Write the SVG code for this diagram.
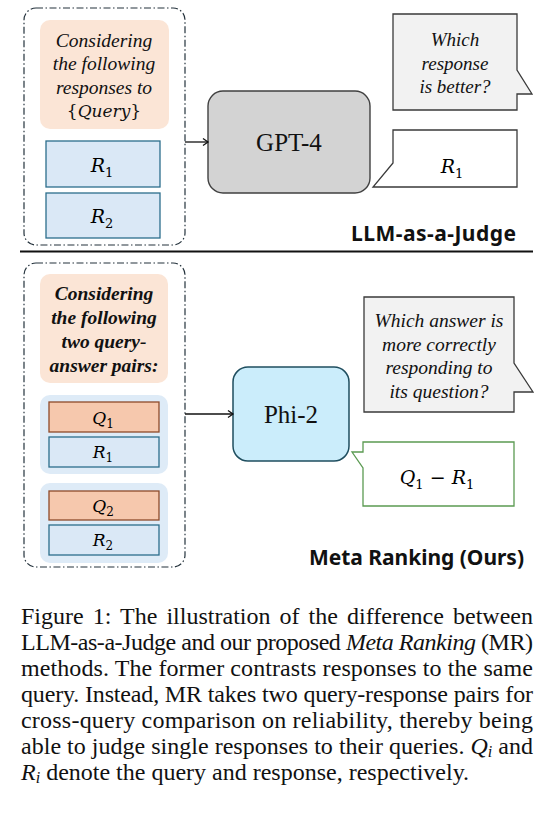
<svg xmlns="http://www.w3.org/2000/svg" width="556" height="813" viewBox="0 0 556 813">
<style>
.t{font-family:"Liberation Serif","Times New Roman",serif;fill:#111}
.it{font-style:italic}
.bi{font-style:italic;font-weight:bold}
.m{font-family:"DejaVu Serif",serif;font-style:italic}
.s{font-family:"DejaVu Serif",serif;font-style:normal}
.lbl{font-family:"Noto Sans","Open Sans",sans-serif;font-weight:bold;fill:#111}
.outer{fill:none;stroke:#24323c;stroke-width:1.2;stroke-dasharray:7 2.5 1.5 2.5}
.peach{fill:#fbe5d6}
.rbox{fill:#dae8f6;stroke:#2b6e8c;stroke-width:1.3}
.qbox{fill:#f6c8ad;stroke:#8e4a2a;stroke-width:1.3}
.grp{fill:#deebf7}
.bub{fill:#f2f2f2;stroke:#3a3a3a;stroke-width:1.3}
.bubw{fill:#fff;stroke:#3a3a3a;stroke-width:1.3}
.bubg{fill:#fff;stroke:#5b9a52;stroke-width:1.3}
.conn{stroke:#111;stroke-width:1.3;fill:none;marker-end:url(#ah)}
.cap{font-family:"Liberation Serif","Times New Roman",serif;font-size:24px;fill:#111}
</style>
<defs>
<marker id="ah" markerWidth="10" markerHeight="10" refX="8" refY="5" orient="auto" markerUnits="userSpaceOnUse"><path d="M3,1.5 L8,5 L3,8.5" fill="none" stroke="#111" stroke-width="1.3"/></marker>
</defs>

<g id="top-input">
<rect class="outer" x="24" y="8" width="161" height="237" rx="12"/>
<rect class="peach" x="40" y="20" width="129" height="109" rx="10"/>
<text class="t it" font-size="19.5" text-anchor="middle"><tspan x="104" y="47">Considering</tspan><tspan x="104" y="70">the following</tspan><tspan x="104" y="93.5">responses to</tspan></text>
<text class="t" font-size="18" text-anchor="middle" x="104" y="117"><tspan class="s" font-size="17">{</tspan><tspan class="m" font-size="17">Query</tspan><tspan class="s" font-size="17">}</tspan></text>
<rect class="rbox" x="46" y="141" width="114" height="46"/>
<text class="m" font-size="19" text-anchor="middle" x="102" y="172">R<tspan class="s" font-size="13" dy="5">1</tspan></text>
<rect class="rbox" x="46" y="193" width="114" height="45"/>
<text class="m" font-size="19" text-anchor="middle" x="102" y="223">R<tspan class="s" font-size="13" dy="5">2</tspan></text>
</g>

<g id="gpt4">
<rect x="208" y="91" width="162" height="102" rx="15" fill="#d3d3d3" stroke="#404040" stroke-width="1.4"/>
<text class="t" font-size="25" text-anchor="middle" x="289" y="151">GPT-4</text>
</g>

<g id="top-question">
<path class="bub" d="M393,14 H517 V70 L532,94 H517 V110 H393 Z"/>
<text class="t it" font-size="19" text-anchor="middle"><tspan x="455" y="46">Which</tspan><tspan x="455" y="69.5">response</tspan><tspan x="455" y="93">is better?</tspan></text>
</g>

<g id="top-answer">
<path class="bubw" d="M393,130 H517 V187 H373 L393,163 Z"/>
<text class="m" font-size="19" text-anchor="middle" x="452" y="173">R<tspan class="s" font-size="13" dy="5">1</tspan></text>
</g>

<text class="lbl" font-size="21" text-anchor="end" x="516" y="241" textLength="165" lengthAdjust="spacing">LLM-as-a-Judge</text>

<line x1="20" y1="251.5" x2="533" y2="251.5" stroke="#111" stroke-width="2"/>

<g id="bottom-input">
<rect class="outer" x="24" y="263" width="161" height="304" rx="12"/>
<rect class="peach" x="40" y="274" width="128" height="109" rx="10"/>
<text class="t bi" font-size="19.5" text-anchor="middle"><tspan x="104" y="300">Considering</tspan><tspan x="104" y="324">the following</tspan><tspan x="104" y="348">two query-</tspan><tspan x="104" y="372">answer pairs:</tspan></text>
<rect class="grp" x="40" y="395" width="128" height="79" rx="10"/>
<rect class="qbox" x="49" y="402" width="110" height="30"/>
<text class="m" font-size="17" text-anchor="middle" x="103" y="424">Q<tspan class="s" font-size="12" dy="4">1</tspan></text>
<rect class="rbox" x="49" y="437" width="110" height="30"/>
<text class="m" font-size="17" text-anchor="middle" x="103" y="458">R<tspan class="s" font-size="12" dy="4">1</tspan></text>
<rect class="grp" x="40" y="483" width="128" height="80" rx="10"/>
<rect class="qbox" x="49" y="491" width="110" height="29"/>
<text class="m" font-size="17" text-anchor="middle" x="103" y="512">Q<tspan class="s" font-size="12" dy="4">2</tspan></text>
<rect class="rbox" x="49" y="525" width="110" height="30"/>
<text class="m" font-size="17" text-anchor="middle" x="103" y="546">R<tspan class="s" font-size="12" dy="4">2</tspan></text>
</g>

<g id="phi2">
<rect x="233" y="367" width="116" height="94" rx="15" fill="#cbedfb" stroke="#1f4e5f" stroke-width="1.5"/>
<text class="t" font-size="25" text-anchor="middle" x="291" y="423">Phi-2</text>
</g>

<g id="bottom-question">
<path class="bub" d="M364,297 H514 V363 L533,392 H514 V412 H364 Z"/>
<text class="t it" font-size="19.5" text-anchor="middle"><tspan x="439" y="327">Which answer is</tspan><tspan x="439" y="350.5">more correctly</tspan><tspan x="439" y="374">responding to</tspan><tspan x="439" y="397.5">its question?</tspan></text>
</g>

<g id="bottom-answer">
<path class="bubg" d="M363,442 H514 V506 H363 V468 L352,452 H363 Z"/>
<text class="m" font-size="19" text-anchor="middle" x="437" y="484">Q<tspan class="s" font-size="13" dy="5">1</tspan><tspan class="s" dy="-5"> − </tspan>R<tspan class="s" font-size="13" dy="5">1</tspan></text>
</g>

<text class="lbl" font-size="21" text-anchor="end" x="524" y="565" textLength="215" lengthAdjust="spacing">Meta Ranking (Ours)</text>

<g id="connectors">
<line class="conn" x1="185" y1="142" x2="208" y2="142"/>
<line class="conn" x1="185" y1="414" x2="233" y2="414"/>
</g>

<g id="caption">
<text class="cap" x="21" y="624" word-spacing="3" textLength="512" lengthAdjust="spacing">Figure 1: The illustration of the difference between</text>
<text class="cap" x="21" y="650" textLength="512" lengthAdjust="spacing">LLM-as-a-Judge and our proposed <tspan font-style="italic">Meta Ranking</tspan> (MR)</text>
<text class="cap" x="21" y="676" textLength="512" lengthAdjust="spacing">methods. The former contrasts responses to the same</text>
<text class="cap" x="21" y="702" textLength="512" lengthAdjust="spacing">query. Instead, MR takes two query-response pairs for</text>
<text class="cap" x="21" y="728" textLength="512" lengthAdjust="spacing">cross-query comparison on reliability, thereby being</text>
<text class="cap" x="21" y="754" textLength="512" lengthAdjust="spacing">able to judge single responses to their queries. <tspan font-style="italic">Q</tspan><tspan font-style="italic" font-size="16" dy="3">i</tspan><tspan dy="-3"> and</tspan></text>
<text class="cap" x="21" y="780"><tspan font-style="italic">R</tspan><tspan font-style="italic" font-size="16" dy="3">i</tspan><tspan dy="-3"> denote the query and response, respectively.</tspan></text>
</g>
</svg>
